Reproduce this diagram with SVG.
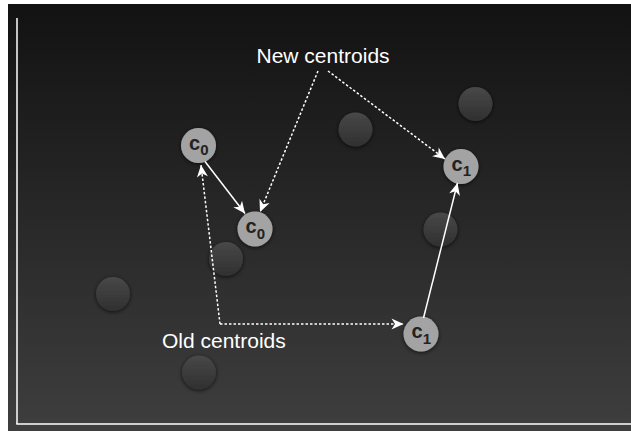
<svg xmlns="http://www.w3.org/2000/svg" width="631" height="431" viewBox="0 0 631 431">
<defs>
<linearGradient id="bg" x1="0" y1="0" x2="0" y2="1">
<stop offset="0" stop-color="#121212"/>
<stop offset="1" stop-color="#3e3e3e"/>
</linearGradient>
<linearGradient id="dot" x1="0" y1="0" x2="0" y2="1">
<stop offset="0" stop-color="#484848"/>
<stop offset="1" stop-color="#303030"/>
</linearGradient>
<filter id="sh" x="-50%" y="-50%" width="200%" height="200%">
<feDropShadow dx="0" dy="1" stdDeviation="2" flood-color="#000" flood-opacity="0.7"/>
</filter>
<marker id="ah" viewBox="-13 -6 14 12" refX="0" refY="0" markerWidth="14" markerHeight="12" markerUnits="userSpaceOnUse" orient="auto">
<path d="M0,0 L-12,-5.5 L-8.5,0 L-12,5.5 Z" fill="#fff"/>
</marker>
</defs>
<style>
.data{fill:url(#dot);filter:url(#sh)}
.cent{fill:#a3a3a3;filter:url(#sh)}
.lbl{font-family:"Liberation Sans",Arial,sans-serif;font-size:21px;fill:#fff}
.cl{font-family:"Liberation Sans",Arial,sans-serif;font-weight:bold;fill:#222;font-size:20px}
.sub{font-size:15px}
.solid{stroke:#fff;stroke-width:1.5;fill:none;marker-end:url(#ah)}
.dotted{stroke:#fff;stroke-width:1.5;fill:none;stroke-dasharray:2.5 2;marker-end:url(#ah)}
</style>
<rect x="0" y="0" width="631" height="431" fill="#fff"/>
<rect x="8" y="4" width="623" height="427" fill="url(#bg)"/>
<g id="axes">
<line x1="17" y1="18" x2="17" y2="424" stroke="#fff" stroke-width="1.5"/>
<line x1="16.25" y1="424" x2="631" y2="424" stroke="#fff" stroke-width="1.5"/>
</g>
<g id="data-points">
<circle id="p1" class="data" cx="355.5" cy="129.5" r="17"/>
<circle id="p2" class="data" cx="475.5" cy="104" r="17"/>
<circle id="p3" class="data" cx="440.5" cy="229.5" r="17"/>
<circle id="p4" class="data" cx="226" cy="259" r="17"/>
<circle id="p5" class="data" cx="113" cy="294" r="17"/>
<circle id="p6" class="data" cx="199" cy="372.5" r="17"/>
</g>
<g id="old-c0"><circle class="cent" cx="198.5" cy="145.5" r="17.5"/><text class="cl" x="189" y="149.5">c<tspan class="sub" dy="5.5">0</tspan></text></g>
<g id="new-c0"><circle class="cent" cx="255" cy="229" r="17.5"/><text class="cl" x="245.5" y="233">c<tspan class="sub" dy="5.5">0</tspan></text></g>
<g id="new-c1"><circle class="cent" cx="461" cy="166.5" r="17.5"/><text class="cl" x="451.5" y="170.5">c<tspan class="sub" dy="5.5">1</tspan></text></g>
<g id="old-c1"><circle class="cent" cx="421" cy="334" r="17.5"/><text class="cl" x="411.5" y="338">c<tspan class="sub" dy="5.5">1</tspan></text></g>
<g id="label-new"><text class="lbl" x="256.5" y="62.5">New centroids</text></g>
<g id="label-old"><text class="lbl" x="162" y="347.5">Old centroids</text></g>
<g id="connectors">
<line class="solid" x1="205" y1="161.5" x2="245" y2="213.5"/>
<line class="solid" x1="423.5" y1="318" x2="457.5" y2="183"/>
<line class="dotted" x1="318" y1="71" x2="260" y2="212"/>
<line class="dotted" x1="328" y1="71" x2="445" y2="159"/>
<line class="dotted" x1="220" y1="324" x2="201" y2="165"/>
<line class="dotted" x1="220" y1="324" x2="403.5" y2="324"/>
</g>
</svg>
